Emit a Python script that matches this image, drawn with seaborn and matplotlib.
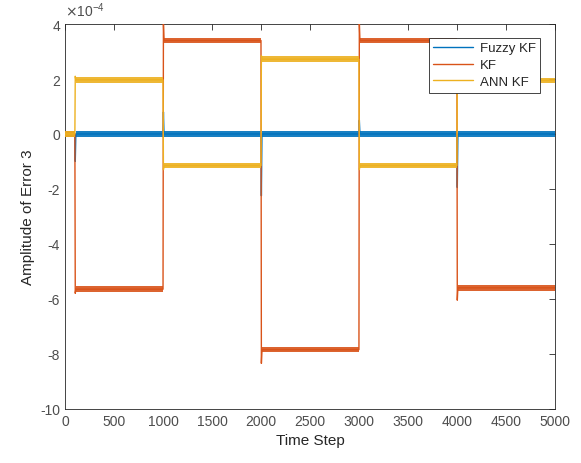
import matplotlib
matplotlib.use("Agg")
import matplotlib.pyplot as plt
import matplotlib.ticker as mticker
import seaborn as sns
import pandas as pd

# values (amplitudes in units of 1e-4)
SCALE = 1e-4
edges = [0, 100, 1000, 2000, 3000, 4000, 5000]
series_names = ["Fuzzy KF", "KF", "ANN KF"]
fuzzy_levels = [0.0, 0.0, 0.0, 0.0, 0.0, 0.0]
kf_levels = [0.0, -5.65, 3.4, -7.85, 3.4, -5.6]
ann_levels = [0.0, 1.97, -1.15, 2.72, -1.15, 1.95]
# transient values right after each switch (at edges[1:-1])
fuzzy_peaks = [-1.0, 0.8, -2.25, 0.5, -1.95]
kf_peaks = [-5.8, 4.05, -8.35, 4.05, -6.05]
ann_peaks = [2.1, -1.3, 2.85, -1.3, 2.1]
# half width of the noise band around each level
noise_hw = [0.1, 0.1, 0.1]

colors = ["#0072BD", "#D95319", "#EDB120"]

sns.set_style("white")
plt.rcParams["font.family"] = ["Liberation Sans", "DejaVu Sans"]

fig = plt.figure(figsize=(5.81, 4.64), dpi=100)
ax = fig.add_axes([0.112, 0.117, 0.843, 0.829])


def build_frame(levels, peaks):
    xs, ys = [edges[0]], [levels[0]]
    for i in range(1, len(levels)):
        x0 = edges[i]
        xs += [x0, x0 + 4, x0 + 10, edges[i + 1]]
        ys += [levels[i - 1], peaks[i - 1], levels[i], levels[i]]
    return pd.DataFrame({"step": xs, "amp": [v * SCALE for v in ys]})


all_levels = [fuzzy_levels, kf_levels, ann_levels]
all_peaks = [fuzzy_peaks, kf_peaks, ann_peaks]

for k, name in enumerate(series_names):
    df = build_frame(all_levels[k], all_peaks[k])
    for i, lv in enumerate(all_levels[k]):
        start = edges[i] + (10 if i > 0 else 0)
        ax.fill_between([start, edges[i + 1]],
                        (lv - noise_hw[k]) * SCALE, (lv + noise_hw[k]) * SCALE,
                        color=colors[k], lw=0, alpha=0.9, zorder=2 + k)
    sns.lineplot(data=df, x="step", y="amp", sort=False, estimator=None,
                 color=colors[k], lw=1.0, label=name, ax=ax, zorder=2 + k)

ax.set_xlim(0, 5000)
ax.set_ylim(-10 * SCALE, 4 * SCALE)
ax.set_xticks(range(0, 5001, 500))
ax.set_yticks([v * SCALE for v in range(-10, 5, 2)])
ax.yaxis.set_major_formatter(mticker.FuncFormatter(lambda v, p: "%g" % round(v / SCALE, 6)))
ax.text(0.0, 1.012, r"$\times\mathregular{10^{-4}}$", transform=ax.transAxes,
        fontsize=10, color="#4d4d4d", ha="left", va="bottom")

ax.set_xlabel("Time Step", fontsize=11, color="#262626")
ax.set_ylabel("Amplitude of Error 3", fontsize=11, color="#262626")
ax.tick_params(direction="in", length=4, width=0.6, labelsize=10,
               colors="#262626", top=True, right=True, labelcolor="#4d4d4d")
for s in ax.spines.values():
    s.set_color("#262626")
    s.set_linewidth(0.6)

handles, labels = ax.get_legend_handles_labels()
leg = ax.legend(handles, labels, loc="upper right", bbox_to_anchor=(0.97, 0.965),
                fontsize=9.5, frameon=True, fancybox=False, framealpha=1,
                edgecolor="#262626", borderpad=0.35, labelspacing=0.35,
                handlelength=3.0, handletextpad=0.5, borderaxespad=0)
leg.get_frame().set_linewidth(0.6)

fig.savefig("out.png", dpi=100)
